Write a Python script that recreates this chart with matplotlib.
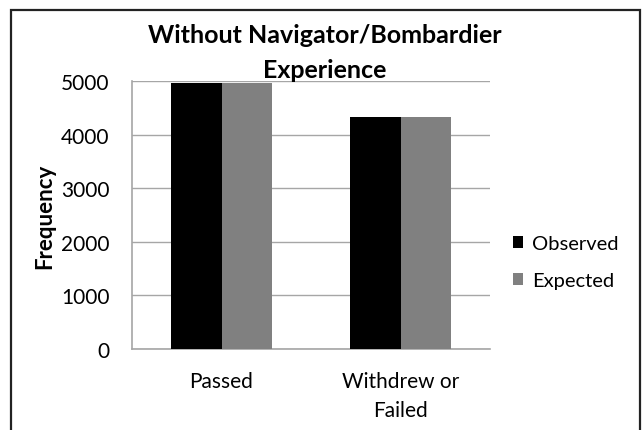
import matplotlib.pyplot as plt
from matplotlib.patches import Rectangle
import numpy as np

categories = ["Passed", "Withdrew or\nFailed"]
observed = [4960, 4320]
expected = [4960, 4320]
series_names = ["Observed", "Expected"]
yticks = [0, 1000, 2000, 3000, 4000, 5000]

plt.rcParams['font.family'] = ['Lato', 'DejaVu Sans']

fig = plt.figure(figsize=(6.42, 4.31), dpi=100)
ax = fig.add_axes([132/642, 81/431, 358/642, 268/431])

x = np.arange(len(categories))
w = 0.284
b1 = ax.bar(x - w/2, observed, w, color="black", label=series_names[0], zorder=3)
b2 = ax.bar(x + w/2, expected, w, color="#808080", label=series_names[1], zorder=3)

ax.set_xlim(-0.5, 1.5)
ax.set_ylim(0, 5000)
ax.set_yticks(yticks)
ax.set_xticks(x)
ax.set_xticklabels(categories, fontsize=15, linespacing=1.55)
ax.tick_params(axis="y", length=0, pad=16, labelsize=15)
ax.tick_params(axis="x", length=0, pad=16)
ax.grid(axis="y", color="#a6a6a6", lw=1, zorder=0)
for s in ["top", "right"]:
    ax.spines[s].set_visible(False)
for s in ["left", "bottom"]:
    ax.spines[s].set_color("#a6a6a6")
    ax.spines[s].set_linewidth(1.2)

ax.set_ylabel("Frequency", fontsize=16, fontweight="bold")
ax.yaxis.set_label_coords(-0.215, 0.5)

fig.text(325/642, 1 - 53/431, "Without Navigator/Bombardier\nExperience",
         ha="center", va="center", fontsize=18, fontweight="bold", linespacing=1.6)

fig.legend(handles=[b1, b2], loc="center left", bbox_to_anchor=(513/642, 1 - 263/431),
           frameon=False, fontsize=14.5, handlelength=0.5, handleheight=0.55,
           handletextpad=0.45, labelspacing=1.0, borderpad=0, borderaxespad=0)

fig.patches.append(Rectangle((11/642, -0.1), 629/642, 1.1 - 11/431, transform=fig.transFigure,
                             fill=False, edgecolor="#222222", lw=1.6))

fig.savefig("out.png", dpi=100)
